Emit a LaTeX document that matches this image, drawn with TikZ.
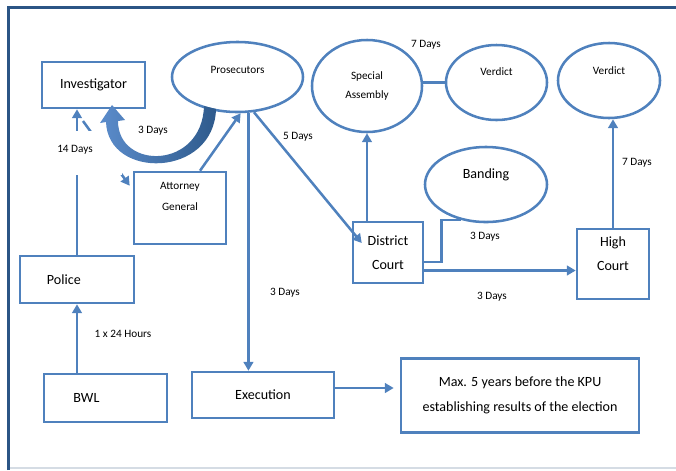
\documentclass[tikz,border=0pt]{standalone}
\usepackage{fontspec}
\setmainfont{Carlito}
\usepackage{xcolor}
\definecolor{BoxBlue}{HTML}{4F81BD}
\definecolor{FrameBlue}{HTML}{2B5585}
\definecolor{ArcDark}{HTML}{2E5A8C}
\definecolor{ArcLight}{HTML}{5B8CCB}
\definecolor{RuleGray}{HTML}{D5DCE4}
\usetikzlibrary{shapes.geometric, arrows.meta, calc}

\begin{document}
\begin{tikzpicture}[
  x=0.025cm, y=-0.025cm,
  box/.style={rectangle, draw=BoxBlue, line width=1.8pt, fill=white, font=\fontsize{10}{12}\selectfont, align=center},
  oval/.style={ellipse, draw=BoxBlue, line width=1.8pt, fill=white, inner sep=0pt, font=\fontsize{8}{10}\selectfont, align=center},
  arrow/.style={-{Triangle[length=2.2mm, width=2.4mm]}, line width=1.8pt, BoxBlue},
  link/.style={line width=1.8pt, BoxBlue},
  days/.style={font=\fontsize{8}{9}\selectfont, inner sep=1pt}
]
  \useasboundingbox (0,0) rectangle (676,470);
  \draw[FrameBlue, line width=2.2pt] (8.5,470) -- (8.5,7.5) -- (676,7.5);
  \draw[RuleGray, line width=1pt] (10,468) -- (676,468);

  \node[box, minimum width=2.575cm, minimum height=1.15cm] (inv) at (93.5,85) {Investigator};
  \node[oval, minimum width=3.275cm, minimum height=1.75cm, text depth=10pt] (pros) at (237.5,77) {Prosecutors};
  \node[oval, minimum width=2.75cm, minimum height=2.3cm] (sa) at (367,86) {Special\\[4pt]Assembly};
  \node[oval, minimum width=2.525cm, minimum height=1.875cm, text depth=15pt] (v1) at (496.5,82.5) {Verdict};
  \node[oval, minimum width=2.55cm, minimum height=1.875cm, text depth=14pt] (v2) at (609,80.5) {Verdict};
  \node[oval, minimum width=3.05cm, minimum height=1.875cm, text depth=15pt, font=\fontsize{10}{12}\selectfont] (band) at (486,184.5) {Banding};
  \node[box, minimum width=2.3cm, minimum height=1.8cm, font=\fontsize{8}{10}\selectfont] (ag) at (180,208) {Attorney\\[5pt]General\\[6pt]};
  \node[box, minimum width=1.75cm, minimum height=1.525cm] (dc) at (388,252.5) {District\\[5pt]Court};
  \node[box, minimum width=1.8cm, minimum height=1.75cm] (hc) at (613,264) {High\\[5pt]Court\\[3pt]};
  \node[box, minimum width=2.85cm, minimum height=1.175cm, text width=1.5cm, align=left] (pol) at (77,279.5) {Police};
  \node[box, minimum width=3.075cm, minimum height=1.2cm, text width=1.6cm, align=left] (bwl) at (105.5,398) {BWL};
  \node[box, minimum width=3.55cm, minimum height=1.15cm] (ex) at (263,395) {Execution};
  \node[box, minimum width=5.95cm, minimum height=1.85cm] (max) at (520,395.5) {Max. 5 years before the KPU\\[6pt]establishing results of the election};

  \coordinate (c14) at (83,121);
  \coordinate (dcr) at ($(dc.east)+(0,18)$);
  \coordinate (exr) at ($(ex.east)+(0,-7)$);

  \draw[arrow] (pol.north) -- (pol.north |- inv.south);
  \draw[arrow] (c14) -- ($(ag.north west)+(-3,15)$);
  \draw[arrow] (pol.south |- bwl.north) -- (pol.south);
  \draw[arrow] ($(ag.north)+(20,0)$) -- (pros.-85);
  \draw[arrow] (pros.-73) -- (pros.-73 |- ex.north);
  \draw[arrow] (pros.-65) -- ($(dc.west)+(10,-9.5)$);
  \draw[arrow] (sa.south |- dc.north) -- (sa.south);
  \draw[link] (v1.west) -- (v1.west -| sa.east);
  \draw[link] ($(dc.east)+(0,9.5)$) -- ++(17,0) |- (band.-125);
  \draw[arrow] (dcr) -- (dcr -| hc.west);
  \draw[arrow] (hc.north) -- (hc.north |- v2.south);
  \draw[arrow, shorten >=0.15cm] (exr) -- (exr -| max.west);

  \node[days, fill=white, minimum width=2.35cm, minimum height=1.1cm, text depth=6pt] (l14) at (75,153) {14 Days};
  \node[days] (l3a) at (153,131) {3 Days};
  \node[days] (l5) at (298,137) {5 Days};
  \node[days] (l7a) at (426,45) {7 Days};
  \node[days] (l3b) at (485,237) {3 Days};
  \node[days] (l3c) at (492,297) {3 Days};
  \node[days] (l7b) at (637,163) {7 Days};
  \node[days] (l3d) at (285,293) {3 Days};
  \node[days] (l24) at (123,334) {1 x 24 Hours};

  % curved return arrow from the prosecutors back to the investigator
  \shade[left color=ArcLight, right color=ArcDark]
    (216,109) .. controls (214,178) and (108,180) .. (106,122)
    -- (100,123) -- (112,105) -- (125,120) -- (118,121)
    .. controls (118,170) and (202,170) .. (204,106) -- cycle;
\end{tikzpicture}
\end{document}
